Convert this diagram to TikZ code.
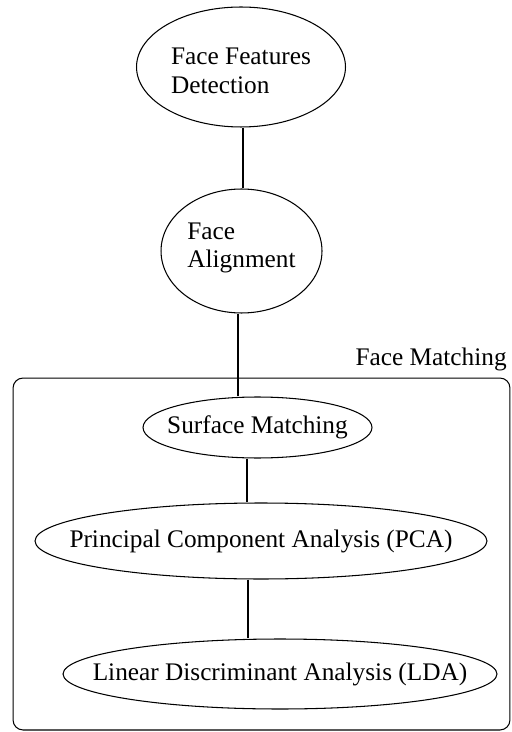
\documentclass[tikz,border=0pt]{standalone}
\usepackage{fontspec}
\setmainfont{Liberation Serif}
\usetikzlibrary{shapes.geometric, calc}

\tikzset{
    txt/.style={font=\fontsize{14.4pt}{16.4pt}\selectfont, align=left},
    oval/.style={draw, ellipse, line width=0.6pt, inner sep=0pt},
    link/.style={line width=0.6pt},
}

\begin{document}
\begin{tikzpicture}[x=0.02cm, y=-0.02cm, every label/.style={txt}]
    \useasboundingbox (0,0) rectangle (511,732);

    % Face matching frame
    \node[draw, rounded corners=0.2cm, line width=0.6pt, minimum width=9.94cm, minimum height=7.04cm] (fmbox) at (261.5,554) {};
    \node[txt, anchor=base east, inner sep=0pt] (fmlabel) at (507,365) {Face Matching};

    % Stages
    \node[oval, minimum width=4.18cm, minimum height=2.4cm, label={[yshift=-0.08cm]center:Face Features\\Detection}] (ffd) at (241,67) {};
    \node[oval, minimum width=3.22cm, minimum height=2.48cm, label={[yshift=0.06cm]center:Face\\Alignment}] (fa) at (241.5,251) {};
    \node[oval, minimum width=4.58cm, minimum height=1.22cm, label={center:Surface Matching}] (surf) at (257.5,427.5) {};
    \node[oval, minimum width=9.04cm, minimum height=1.52cm, label={center:Principal Component Analysis (PCA)}] (pca) at (261,541) {};
    \node[oval, minimum width=8.68cm, minimum height=1.4cm, label={center:Linear Discriminant Analysis (LDA)}] (lda) at (280,674) {};

    % Connections
    \coordinate (ffdout) at ($(ffd.south)+(2,0)$);
    \coordinate (faout) at ($(fa.south)+(-3.5,0)$);
    \coordinate (surfout) at ($(surf.south)+(-10.5,0)$);
    \coordinate (pcaout) at ($(pca.south)+(-13,0)$);
    \draw[link] (ffdout) -- (ffdout |- fa.north);
    \draw[link] (faout) -- (faout |- surf.north);
    \draw[link] (surfout) -- (surfout |- pca.north);
    \draw[link] (pcaout) -- (pcaout |- lda.north);
\end{tikzpicture}
\end{document}
